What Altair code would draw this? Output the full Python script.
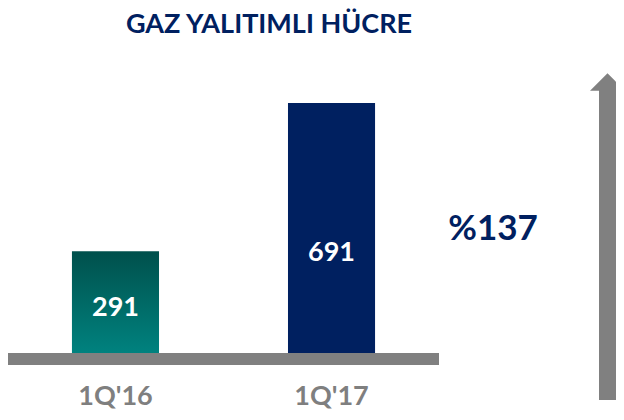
import altair as alt
import pandas as pd

categories = ["1Q'16", "1Q'17"]
values = [291, 691]
title_text = "GAZ YALITIMLI HÜCRE"
growth_text = "%137"

df = pd.DataFrame({"cat": categories, "value": values})

FONT = "Lato"
NAVY = "#002060"
GRAY = "#808080"

x = alt.X("cat:N", sort=categories, axis=None,
          scale=alt.Scale(range=[0, 431], paddingInner=0.597, paddingOuter=0.296))
yscale = alt.Scale(domain=[-143, 947.4], nice=False, zero=False)

base = alt.Chart(df)

teal_grad = alt.Gradient(
    gradient="linear",
    stops=[alt.GradientStop(color="#00504c", offset=0),
           alt.GradientStop(color="#008582", offset=1)],
    x1=0, x2=0, y1=0, y2=1,
)

bar1 = base.transform_filter(alt.datum.cat == categories[0]).mark_bar(color=teal_grad).encode(
    x=x, y=alt.Y("value:Q", scale=yscale, axis=None), y2=alt.datum(0)
)
bar2 = base.transform_filter(alt.datum.cat == categories[1]).mark_bar(color=NAVY).encode(
    x=x, y=alt.Y("value:Q", scale=yscale, axis=None), y2=alt.datum(0)
)

lbl1 = base.transform_filter(alt.datum.cat == categories[0]).transform_calculate(
    mid="datum.value / 2").mark_text(
    font=FONT, fontWeight="bold", fontSize=27, color="white", baseline="middle", dy=3
).encode(x=x, y=alt.Y("mid:Q", scale=yscale), text="value:Q")
lbl2 = base.transform_filter(alt.datum.cat == categories[1]).transform_calculate(
    mid="datum.value / 2").mark_text(
    font=FONT, fontWeight="bold", fontSize=27, color="white", baseline="middle", dy=22
).encode(x=x, y=alt.Y("mid:Q", scale=yscale), text="value:Q")

baseline = base.mark_rule(color=GRAY, strokeWidth=12, strokeCap="butt").encode(
    x=alt.value(0), x2=alt.value(431), y=alt.datum(0, scale=yscale)
)

xlabels = base.mark_text(
    font=FONT, fontWeight="bold", fontSize=27, color="#7f7f7f", baseline="middle"
).encode(x=x, y=alt.value(389), text="cat:N")

title = alt.Chart(pd.DataFrame({"t": [title_text]})).mark_text(
    font=FONT, fontWeight="bold", fontSize=27, color=NAVY, baseline="middle"
).encode(x=alt.value(261), y=alt.value(17), text="t:N")

growth = alt.Chart(pd.DataFrame({"t": [growth_text]})).mark_text(
    font=FONT, fontWeight="bold", fontSize=35, color=NAVY, baseline="middle"
).encode(x=alt.value(485), y=alt.value(221), text="t:N")

shaft = alt.Chart(pd.DataFrame({"a": [1]})).mark_rect(color=GRAY).encode(
    x=alt.value(591), x2=alt.value(608), y=alt.value(80), y2=alt.value(392)
)
head = alt.Chart(pd.DataFrame({"a": [1]})).mark_point(
    filled=True, color=GRAY, opacity=1, strokeWidth=0,
    shape="M -1 0.5 L 0 -0.5 L 1 0.5 Z", size=1225
).encode(x=alt.value(599.5), y=alt.value(74))

chart = alt.layer(
    bar1, bar2, baseline, lbl1, lbl2, xlabels, title, growth, shaft, head
).properties(
    width=608, height=404, autosize=alt.AutoSizeParams(type="none"), padding=0
).configure_view(stroke=None)

chart.save("out.html", embed_options={"renderer": "svg", "actions": False})
